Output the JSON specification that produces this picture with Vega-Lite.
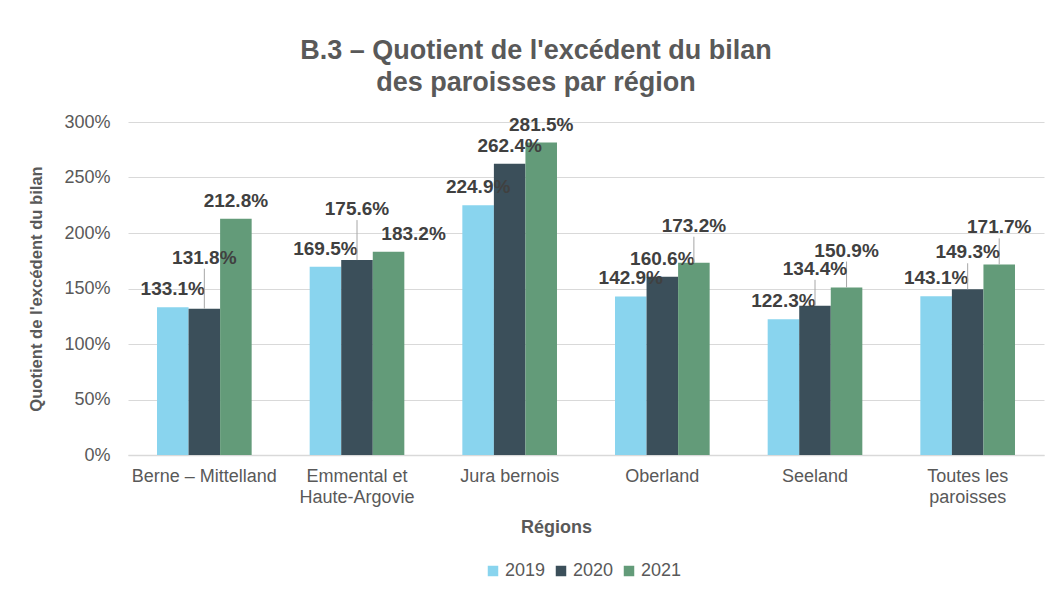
{
  "$schema": "https://vega.github.io/schema/vega-lite/v6.json",
  "width": 916,
  "height": 333,
  "autosize": {"type": "none"},
  "padding": {"left": 128, "top": 122, "right": 10, "bottom": 135},
  "background": "white",
  "config": {
    "font": "Liberation Sans",
    "view": {"stroke": null}
  },
  "title": {
    "text": ["B.3 – Quotient de l'excédent du bilan", "des paroisses par région"],
    "fontSize": 27,
    "fontWeight": "bold",
    "color": "#595959",
    "font": "Liberation Sans",
    "anchor": "middle",
    "frame": "group",
    "dx": -50,
    "lineHeight": 32,
    "offset": 16
  },
  "data": {
    "values": [
      {"region": "Berne – Mittelland", "year": "2019", "value": 1.331},
      {"region": "Berne – Mittelland", "year": "2020", "value": 1.318},
      {"region": "Berne – Mittelland", "year": "2021", "value": 2.128},
      {"region": "Emmental et Haute-Argovie", "year": "2019", "value": 1.695},
      {"region": "Emmental et Haute-Argovie", "year": "2020", "value": 1.756},
      {"region": "Emmental et Haute-Argovie", "year": "2021", "value": 1.832},
      {"region": "Jura bernois", "year": "2019", "value": 2.249},
      {"region": "Jura bernois", "year": "2020", "value": 2.624},
      {"region": "Jura bernois", "year": "2021", "value": 2.815},
      {"region": "Oberland", "year": "2019", "value": 1.429},
      {"region": "Oberland", "year": "2020", "value": 1.606},
      {"region": "Oberland", "year": "2021", "value": 1.732},
      {"region": "Seeland", "year": "2019", "value": 1.223},
      {"region": "Seeland", "year": "2020", "value": 1.344},
      {"region": "Seeland", "year": "2021", "value": 1.509},
      {"region": "Toutes les paroisses", "year": "2019", "value": 1.431},
      {"region": "Toutes les paroisses", "year": "2020", "value": 1.493},
      {"region": "Toutes les paroisses", "year": "2021", "value": 1.717}
    ]
  },
  "encoding": {
    "x": {
      "field": "region",
      "type": "nominal",
      "sort": null,
      "scale": {"paddingInner": 0.38, "paddingOuter": 0.19},
      "axis": {
        "title": "Régions",
        "titleFontSize": 18,
        "titleFontWeight": "bold",
        "titleColor": "#595959",
        "titleX": 428,
        "titlePadding": 12,
        "labelAngle": 0,
        "labelFontSize": 18,
        "labelColor": "#595959",
        "labelPadding": 12,
        "labelLineHeight": 21,
        "labelExpr": "datum.value == 'Emmental et Haute-Argovie' ? ['Emmental et', 'Haute-Argovie'] : datum.value == 'Toutes les paroisses' ? ['Toutes les', 'paroisses'] : datum.value",
        "ticks": false,
        "domainColor": "#D9D9D9",
        "domainWidth": 1.5
      }
    },
    "xOffset": {"field": "year", "type": "nominal"},
    "y": {
      "field": "value",
      "type": "quantitative",
      "scale": {"domain": [0, 3], "nice": false},
      "axis": {
        "title": "Quotient de l'excédent du bilan",
        "titleFontSize": 16.6,
        "titleFontWeight": "bold",
        "titleColor": "#595959",
        "titlePadding": 19,
        "format": "0%",
        "values": [0, 0.5, 1, 1.5, 2, 2.5, 3],
        "labelFontSize": 18,
        "labelColor": "#595959",
        "labelPadding": 18,
        "ticks": false,
        "domain": false,
        "gridColor": "#D9D9D9",
        "gridWidth": 1.2
      }
    }
  },
  "layer": [
    {
      "mark": {"type": "bar"},
      "encoding": {
        "color": {
          "field": "year",
          "type": "nominal",
          "scale": {"domain": ["2019", "2020", "2021"], "range": ["#89D4EE", "#3B4F5A", "#639B79"]},
          "legend": {
            "title": null,
            "orient": "none",
            "direction": "horizontal",
            "legendX": 356,
            "legendY": 440,
            "symbolType": "square",
            "symbolSize": 110,
            "symbolStrokeWidth": 0,
            "labelFontSize": 18,
            "labelColor": "#595959",
            "labelOffset": 3,
            "columnPadding": 6
          }
        }
      }
    },
    {
      "transform": [{"filter": "!((datum.region == 'Berne – Mittelland' && datum.year == '2020') || (datum.region == 'Emmental et Haute-Argovie' && (datum.year == '2020' || datum.year == '2021')) || (datum.region == 'Oberland' && datum.year == '2021') || (datum.region == 'Seeland' && datum.year != '2019') || (datum.region == 'Toutes les paroisses' && datum.year != '2019'))"}],
      "mark": {"type": "text", "dy": -18, "fontSize": 19, "fontWeight": "bold", "color": "#404040", "baseline": "middle"},
      "encoding": {"text": {"field": "value", "type": "quantitative", "format": ".1%"}}
    },
    {
      "transform": [{"filter": "datum.region == 'Emmental et Haute-Argovie' && datum.year == '2021'"}],
      "mark": {"type": "text", "dy": -18, "dx": 25, "fontSize": 19, "fontWeight": "bold", "color": "#404040", "baseline": "middle"},
      "encoding": {"text": {"field": "value", "type": "quantitative", "format": ".1%"}}
    },
    {
      "transform": [{"filter": "(datum.region == 'Oberland' && datum.year == '2021') || (datum.region == 'Seeland' && datum.year != '2019') || (datum.region == 'Toutes les paroisses' && datum.year != '2019')"}],
      "layer": [
        {
          "mark": {"type": "rule", "color": "#A6A6A6", "strokeWidth": 1, "y2Offset": -26},
          "encoding": {"y2": {"field": "value"}}
        },
        {
          "mark": {"type": "text", "dy": -37, "fontSize": 19, "fontWeight": "bold", "color": "#404040", "baseline": "middle"},
          "encoding": {"text": {"field": "value", "type": "quantitative", "format": ".1%"}}
        }
      ]
    },
    {
      "transform": [{"filter": "(datum.region == 'Berne – Mittelland' || datum.region == 'Emmental et Haute-Argovie') && datum.year == '2020'"}],
      "layer": [
        {
          "mark": {"type": "rule", "color": "#A6A6A6", "strokeWidth": 1, "y2Offset": -40},
          "encoding": {"y2": {"field": "value"}}
        },
        {
          "mark": {"type": "text", "dy": -51, "fontSize": 19, "fontWeight": "bold", "color": "#404040", "baseline": "middle"},
          "encoding": {"text": {"field": "value", "type": "quantitative", "format": ".1%"}}
        }
      ]
    }
  ]
}
